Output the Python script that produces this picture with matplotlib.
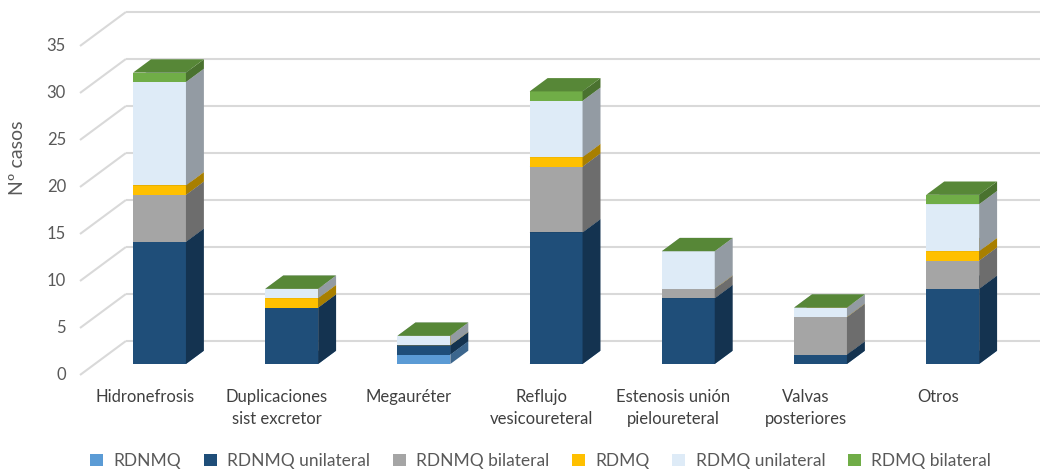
import matplotlib
matplotlib.use("Agg")
import matplotlib.pyplot as plt
from matplotlib.patches import Polygon, Patch
from matplotlib.colors import to_rgb
import numpy as np

plt.rcParams["font.family"] = ["Lato", "DejaVu Sans"]

categories = ["Hidronefrosis", "Duplicaciones\nsist excretor", "Megauréter",
              "Reflujo\nvesicoureteral", "Estenosis unión\npieloureteral",
              "Valvas\nposteriores", "Otros"]
series_names = ["RDNMQ", "RDNMQ unilateral", "RDNMQ bilateral",
                "RDMQ", "RDMQ unilateral", "RDMQ bilateral"]
rdnmq = [0, 0, 1, 0, 0, 0, 0]
rdnmq_uni = [13, 6, 1, 14, 7, 1, 8]
rdnmq_bi = [5, 0, 0, 7, 1, 4, 3]
rdmq = [1, 1, 0, 1, 0, 0, 1]
rdmq_uni = [11, 1, 1, 6, 4, 1, 5]
rdmq_bi = [1, 0, 0, 1, 0, 0, 1]
series_vals = [rdnmq, rdnmq_uni, rdnmq_bi, rdmq, rdmq_uni, rdmq_bi]
colors = ["#5B9BD5", "#1F4E79", "#A5A5A5", "#FFC000", "#DEEBF7", "#70AD47"]
yticks = [0, 5, 10, 15, 20, 25, 30, 35]

# pixel geometry of the oblique "3D" projection
W, H = 1040, 472
PX0, PX_CAT = 159.5, 132.2      # x pixel of first bar centre, px per category
PY0, PX_UNIT = 364, 9.4         # y pixel of bar base, px per unit
SLANT = 1.35                    # dx/dy of depth direction
K_FRONT, K_BAR, K_WALL = -11, 13.3, 23
HALF_W = 0.2


def depth(k):
    return SLANT * k / PX_CAT, k / PX_UNIT


def shade(c, f):
    return tuple(np.array(to_rgb(c)) * f)


fig = plt.figure(figsize=(W / 100, H / 100), dpi=100)
ax = fig.add_axes([0, 0, 1, 1])
ax.set_xlim(-PX0 / PX_CAT, (W - PX0) / PX_CAT)
ax.set_ylim((PY0 - H) / PX_UNIT, PY0 / PX_UNIT)
ax.axis("off")

# walls: diagonals on the left, horizontal gridlines on the back wall
xl = (80 + SLANT * 11 - PX0) / PX_CAT
fdx, fdy = depth(K_FRONT)
wdx, wdy = depth(K_WALL)
grid_c = "#D9D9D9"
for v in yticks:
    ax.plot([xl + fdx, xl + wdx], [v + fdy, v + wdy], color=grid_c, lw=1.5,
            solid_capstyle="butt", zorder=1)
    ax.plot([xl + wdx, 7.5], [v + wdy, v + wdy], color=grid_c, lw=1.5,
            solid_capstyle="butt", zorder=1)
    ax.text(xl + fdx - 14 / PX_CAT, v + fdy, str(v), ha="right", va="center",
            fontsize=12, color="#595959")

ax.text(18 / PX_CAT - PX0 / PX_CAT, (PY0 - 158) / PX_UNIT, "Nº casos",
        rotation=90, ha="center", va="center", fontsize=14, color="#595959")

# bars
bdx, bdy = depth(K_BAR)
for i in range(len(categories)):
    x0, x1 = i - HALF_W, i + HALF_W
    base = 0
    for vals, c in zip(series_vals, colors):
        top = base + vals[i]
        front = [(x0, base), (x1, base), (x1, top), (x0, top)]
        side = [(x1, base), (x1 + bdx, base + bdy), (x1 + bdx, top + bdy), (x1, top)]
        lid = [(x0, top), (x1, top), (x1 + bdx, top + bdy), (x0 + bdx, top + bdy)]
        ax.add_patch(Polygon(front, closed=True, fc=c, ec="none", zorder=3))
        ax.add_patch(Polygon(side, closed=True, fc=shade(c, 0.66), ec="none", zorder=3))
        ax.add_patch(Polygon(lid, closed=True, fc=shade(c, 0.78), ec="none", zorder=3))
        base = top
    ax.text(i + fdx, fdy - 14 / PX_UNIT, categories[i], ha="center", va="top",
            fontsize=12, color="#404040", linespacing=1.45)

handles = [Patch(facecolor=c, edgecolor="none") for c in colors]
fig.legend(handles, series_names, loc="center", bbox_to_anchor=(0.52, 1 - 461 / H),
           ncol=6, frameon=False, fontsize=12.5, handlelength=0.75,
           handleheight=0.75, handletextpad=0.6, columnspacing=1.3,
           labelcolor="#595959")

fig.savefig("out.png", dpi=100)
